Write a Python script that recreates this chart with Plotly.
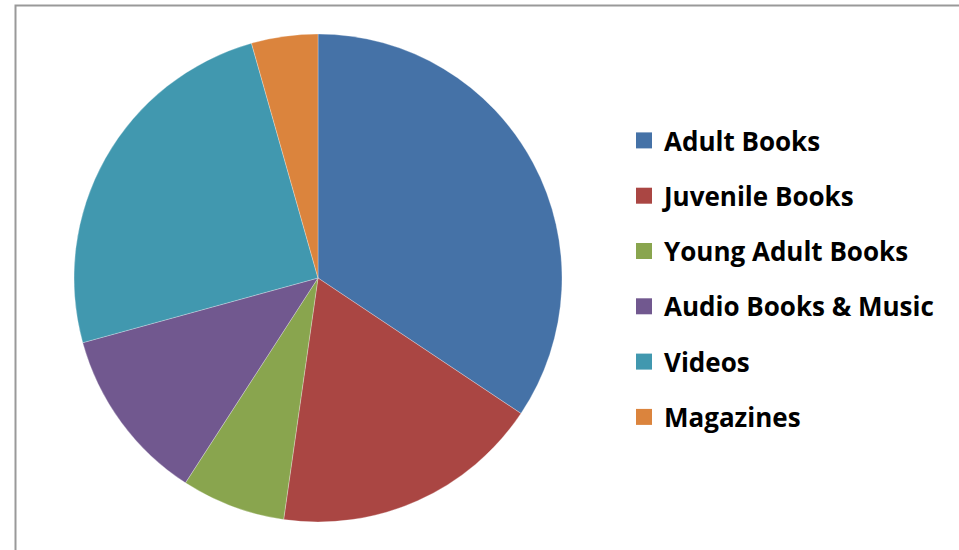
import plotly.graph_objects as go

categories = ["Adult Books", "Juvenile Books", "Young Adult Books",
              "Audio Books & Music", "Videos", "Magazines"]
values = [34.4, 17.9, 6.9, 11.6, 24.9, 4.4]
colors = ["#4572A7", "#AA4643", "#89A54E", "#71588F", "#4198AF", "#DB843D"]

W, H = 959, 550
cx, cy, r = 318, 278, 244

fig = go.Figure()
fig.add_trace(go.Pie(
    labels=categories, values=values, sort=False, direction="clockwise",
    rotation=0, textinfo="none", showlegend=False,
    marker=dict(colors=colors, line=dict(color="rgba(255,255,255,0.35)", width=0.8)),
    domain=dict(x=[(cx - r) / W, (cx + r) / W], y=[1 - (cy + r) / H, 1 - (cy - r) / H]),
))

for i, (name, col) in enumerate(zip(categories, colors)):
    fig.add_trace(go.Scatter(
        x=[None], y=[None], mode="markers", name=name, legendgroup=f"g{i}",
        marker=dict(symbol="square", size=16, color=col),
    ))

fig.update_layout(
    width=W, height=H,
    margin=dict(l=0, r=0, t=0, b=0),
    paper_bgcolor="white", plot_bgcolor="white",
    xaxis=dict(visible=False), yaxis=dict(visible=False),
    showlegend=True,
    legend=dict(
        x=624 / W, xanchor="left", y=1 - 117 / H, yanchor="top",
        traceorder="grouped", tracegroupgap=18.5,
        font=dict(family="Open Sans", size=26, color="#000000", weight="bold"),
        bgcolor="rgba(0,0,0,0)", itemclick=False,
    ),
    shapes=[dict(type="rect", xref="paper", yref="paper",
                 x0=15.5 / W, x1=1.05, y0=-0.05, y1=1 - 5.5 / H,
                 line=dict(color="#999999", width=2), layer="below")],
)

fig.write_html("out.html", config={"displayModeBar": False},
               post_script="document.body.style.margin='0';document.body.style.overflow='hidden';")
